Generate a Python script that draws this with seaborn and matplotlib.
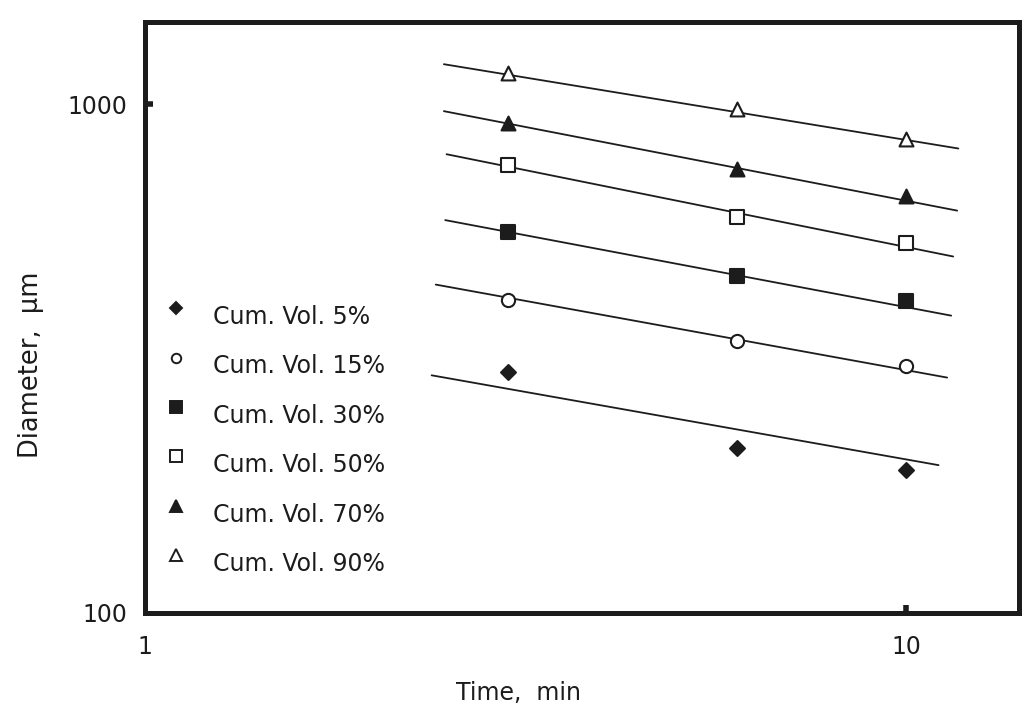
import numpy as np
import pandas as pd
import matplotlib
matplotlib.use("Agg")
import matplotlib.pyplot as plt
import seaborn as sns

# Measured diameters (µm) at each sampling time (min)
times = [3, 6, 10]
d_05 = [297, 211, 191]
d_15 = [412, 342, 306]
d_30 = [561, 459, 410]
d_50 = [760, 600, 533]
d_70 = [919, 748, 659]
d_90 = [1152, 978, 854]

series_labels = ["Cum. Vol. 5%", "Cum. Vol. 15%", "Cum. Vol. 30%",
                 "Cum. Vol. 50%", "Cum. Vol. 70%", "Cum. Vol. 90%"]

# Power-law fit lines: end points (time, diameter) for each series
fit_t_start = [2.38, 2.41, 2.48, 2.49, 2.47, 2.47]
fit_t_end = [11.03, 11.32, 11.46, 11.53, 11.67, 11.71]
fit_d_start = [293, 442, 592, 798, 970, 1200]
fit_d_end = [195, 290, 384, 502, 618, 819]

x_ticks = [1, 10]
x_tick_labels = ["1", "10"]
y_ticks = [100, 1000]
y_tick_labels = ["100", "1000"]

INK = "#1c1c1c"
# marker, filled?, plot size, legend size
styles = [("D", True, 7.6, 5.8),
          ("o", False, 9.5, 6.8),
          ("s", True, 10.0, 8.0),
          ("s", False, 10.0, 8.0),
          ("^", True, 10.0, 8.2),
          ("^", False, 10.0, 8.2)]

sns.set_theme(style="white")
plt.rcParams["font.family"] = ["DejaVu Sans"]
plt.rcParams["text.color"] = INK

points = pd.DataFrame({
    "time": np.tile(times, 6),
    "diameter": np.concatenate([d_05, d_15, d_30, d_50, d_70, d_90]),
    "series": np.repeat(series_labels, len(times)),
})
fits = pd.DataFrame({
    "time": np.ravel(np.column_stack([fit_t_start, fit_t_end])),
    "diameter": np.ravel(np.column_stack([fit_d_start, fit_d_end])),
    "series": np.repeat(series_labels, 2),
})

fig = plt.figure(figsize=(10.25, 7.09), dpi=100)
ax = fig.add_axes([145 / 1025, (709 - 612.5) / 709, 874 / 1025, 590.5 / 709])
ax.set_xscale("log")
ax.set_yscale("log")

sns.lineplot(data=fits, x="time", y="diameter", units="series",
             estimator=None, color=INK, lw=1.3, legend=False, ax=ax)

for label, (mk, filled, ms, _) in zip(series_labels, styles):
    sub = points[points["series"] == label]
    sns.scatterplot(data=sub, x="time", y="diameter", marker=mk,
                    s=ms ** 2, color=INK,
                    facecolor=INK if filled else "white",
                    edgecolor=INK, linewidth=1.5, legend=False,
                    zorder=3, ax=ax)

ax.set_xlim(1, 14.07)
ax.set_ylim(100, 1453)
ax.xaxis.set_major_locator(matplotlib.ticker.FixedLocator(x_ticks))
ax.xaxis.set_major_formatter(matplotlib.ticker.FixedFormatter(x_tick_labels))
ax.yaxis.set_major_locator(matplotlib.ticker.FixedLocator(y_ticks))
ax.yaxis.set_major_formatter(matplotlib.ticker.FixedFormatter(y_tick_labels))
ax.xaxis.set_minor_locator(matplotlib.ticker.NullLocator())
ax.yaxis.set_minor_locator(matplotlib.ticker.NullLocator())
ax.tick_params(axis="both", which="major", direction="in", length=5.5,
               width=4, color=INK, labelsize=17, labelcolor=INK,
               bottom=True, left=True, top=False, right=False)
ax.tick_params(axis="x", pad=16)
ax.tick_params(axis="y", pad=13)

# the corner ticks disappear into the frame
ax.xaxis.get_major_ticks()[0].tick1line.set_visible(False)
ax.yaxis.get_major_ticks()[0].tick1line.set_visible(False)

for sp in ax.spines.values():
    sp.set_visible(True)
    sp.set_linewidth(3.6)
    sp.set_color(INK)

ax.set_xlabel("Time,  min", fontsize=17, color=INK)
ax.set_ylabel("Diameter,  µm", fontsize=18.5, color=INK)
ax.xaxis.set_label_coords(0.427, -0.116)
ax.yaxis.set_label_coords(-0.116, 0.419)

# Hand-built key in the lower left corner of the plot
row0 = 0.5004
step = 0.0837
for i, (label, (mk, filled, _, lms)) in enumerate(zip(series_labels, styles)):
    y = row0 - i * step
    ax.plot([0.0355], [y + 0.015], marker=mk, ms=lms, mew=1.4,
            mfc=INK if filled else "white", mec=INK, ls="none",
            transform=ax.transAxes, clip_on=False)
    ax.text(0.078, y, label, fontsize=17, va="center", ha="left",
            color=INK, transform=ax.transAxes)

fig.savefig("out.png", dpi=100, facecolor="white")
